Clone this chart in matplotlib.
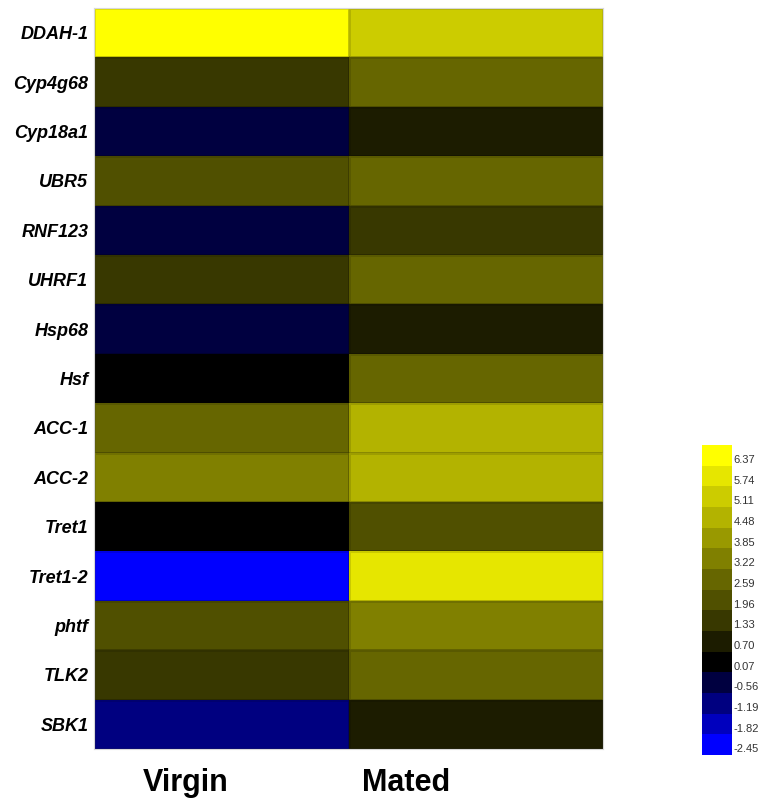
import numpy as np
import matplotlib

matplotlib.use("Agg")
import matplotlib.pyplot as plt
from matplotlib.colors import ListedColormap, BoundaryNorm

genes = ["DDAH-1", "Cyp4g68", "Cyp18a1", "UBR5", "RNF123", "UHRF1", "Hsp68",
         "Hsf", "ACC-1", "ACC-2", "Tret1", "Tret1-2", "phtf", "TLK2", "SBK1"]
conditions = ["Virgin", "Mated"]
virgin = [6.37, 1.33, -0.56, 1.96, -0.56, 1.33, -0.56, 0.07, 2.59, 3.22,
          0.07, -2.45, 1.96, 1.33, -1.19]
mated = [5.11, 2.59, 0.70, 2.59, 1.33, 2.59, 0.70, 2.59, 4.48, 4.48,
         1.96, 5.74, 3.22, 2.59, 0.70]
levels = [-2.45, -1.82, -1.19, -0.56, 0.07, 0.70, 1.33, 1.96, 2.59, 3.22,
          3.85, 4.48, 5.11, 5.74, 6.37]

# discrete blue -> black -> yellow key, one colour per level
blues = [(0, 0, 255), (0, 0, 190), (0, 0, 128), (0, 0, 64)]
yellows = [(v, v, 0) for v in (0, 28, 56, 80, 102, 128, 153, 179, 204, 230, 255)]
cmap = ListedColormap([tuple(c / 255 for c in rgb) for rgb in blues + yellows])
step = 0.63
bounds = [levels[0] - 0.2 + step * k for k in range(len(levels) + 1)]
norm = BoundaryNorm(bounds, cmap.N)

plt.rcParams["font.family"] = ["Liberation Sans", "DejaVu Sans"]

data = np.column_stack([virgin, mated])

fig = plt.figure(figsize=(7.61, 8), dpi=100)
ax = fig.add_axes([94 / 761, 51 / 800, 509 / 761, 741 / 800])
ax.pcolormesh(data, cmap=cmap, norm=norm, edgecolors=(0, 0, 0, 0.12), linewidth=0.8)
ax.set_xlim(0, 2)
ax.set_ylim(len(genes), 0)
ax.set_xticks([])
ax.set_yticks(np.arange(len(genes)) + 0.5)
ax.set_yticklabels(genes, fontsize=13, fontweight="bold", fontstyle="italic")
ax.tick_params(axis="y", length=0, pad=4)
for s in ax.spines.values():
    s.set_color("#d8d8d8")
    s.set_linewidth(0.8)

for name, xpx in zip(conditions, [186, 406]):
    fig.text(xpx / 761, 1 - 783 / 800, name, ha="center", va="center",
             fontsize=22, fontweight="bold")

cax = fig.add_axes([702 / 761, 45 / 800, 30 / 761, 310 / 800])
cb = fig.colorbar(plt.cm.ScalarMappable(norm=norm, cmap=cmap), cax=cax,
                  boundaries=bounds, ticks=levels)
cb.set_ticklabels([f"{v:.2f}" for v in levels])
cb.outline.set_visible(False)
cax.minorticks_off()
cax.tick_params(which="both", length=0, pad=1, labelsize=8, labelcolor="#333333")

fig.savefig("out.png", dpi=100)
